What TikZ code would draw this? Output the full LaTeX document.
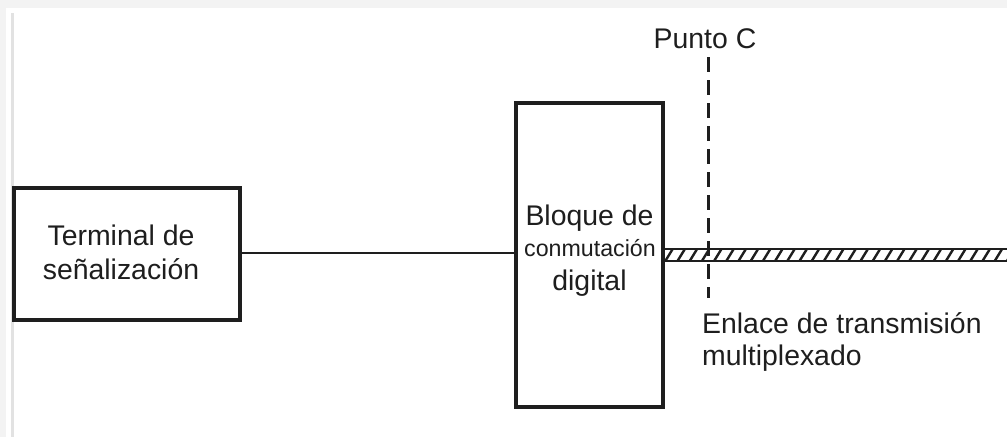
\documentclass[tikz,border=0pt]{standalone}
\usepackage{fontspec}
\setmainfont{Liberation Sans}
\definecolor{bgray}{HTML}{F3F3F3}
\definecolor{sgray}{HTML}{E2E2E2}
\definecolor{ink}{HTML}{1E1E1E}
\tikzset{
  blockbox/.style={draw=ink, line width=3.4pt, fill=white, inner sep=0pt},
  lbl/.style={text=ink, font=\fontsize{28.4}{34}\selectfont, inner sep=0pt, align=center},
  conn/.style={draw=ink, line width=2.5pt},
  pointline/.style={draw=ink, line width=3pt, dash pattern=on 15pt off 8pt},
}
\begin{document}
\begin{tikzpicture}[x=1pt,y=-1pt]
\useasboundingbox (0,0) rectangle (1007,437);
\fill[bgray] (0,0) rectangle (1007,437);
\fill[white] (6,8) rectangle (1007,437);
\fill[sgray] (10.5,13) rectangle (14,437);

% blocks
\node[blockbox, minimum width=226pt, minimum height=132pt] (term) at (127,254) {};
\node[lbl, anchor=base] (termA) at (121,245) {Terminal de};
\node[lbl, anchor=base] (termB) at (121,279) {señalización};

\node[blockbox, minimum width=147pt, minimum height=304pt] (bloque) at (589.5,255) {};
\node[lbl, anchor=base] (blA) at (589.5,225) {Bloque de};
\node[lbl, anchor=base, font=\fontsize{23.2}{26}\selectfont] (blB) at (590,256) {conmutación};
\node[lbl, anchor=base] (blC) at (589.5,290) {digital};

% connector
\draw[conn] (term.east |- 0,253) -- (bloque.west |- 0,253);

% hatched multiplexed link
\coordinate (linkend) at (1007,254.5);
\begin{scope}
  \clip (bloque.east |- 0,249) rectangle (linkend |- 0,261);
  \foreach \i in {0,...,30} {
    \draw[ink, line width=2.4pt] ({665+\i*12.2},261.5) -- ({673+\i*12.2},248.5);
  }
\end{scope}
\draw[ink, line width=1.8pt] (bloque.east |- 0,249) -- (linkend |- 0,249);
\draw[ink, line width=1.8pt] (bloque.east |- 0,261) -- (linkend |- 0,261);

% point C
\coordinate (ptop) at (708,57);
\coordinate (pbot) at (708,298);
\draw[pointline] (ptop) -- (pbot);
\node[lbl, anchor=base] (puntoC) at (705,48) {Punto C};

\node[lbl, anchor=base west, align=left] (enl1) at (702,333) {Enlace de transmisión};
\node[lbl, anchor=base west, align=left] (enl2) at (702,365) {multiplexado};
\end{tikzpicture}
\end{document}
